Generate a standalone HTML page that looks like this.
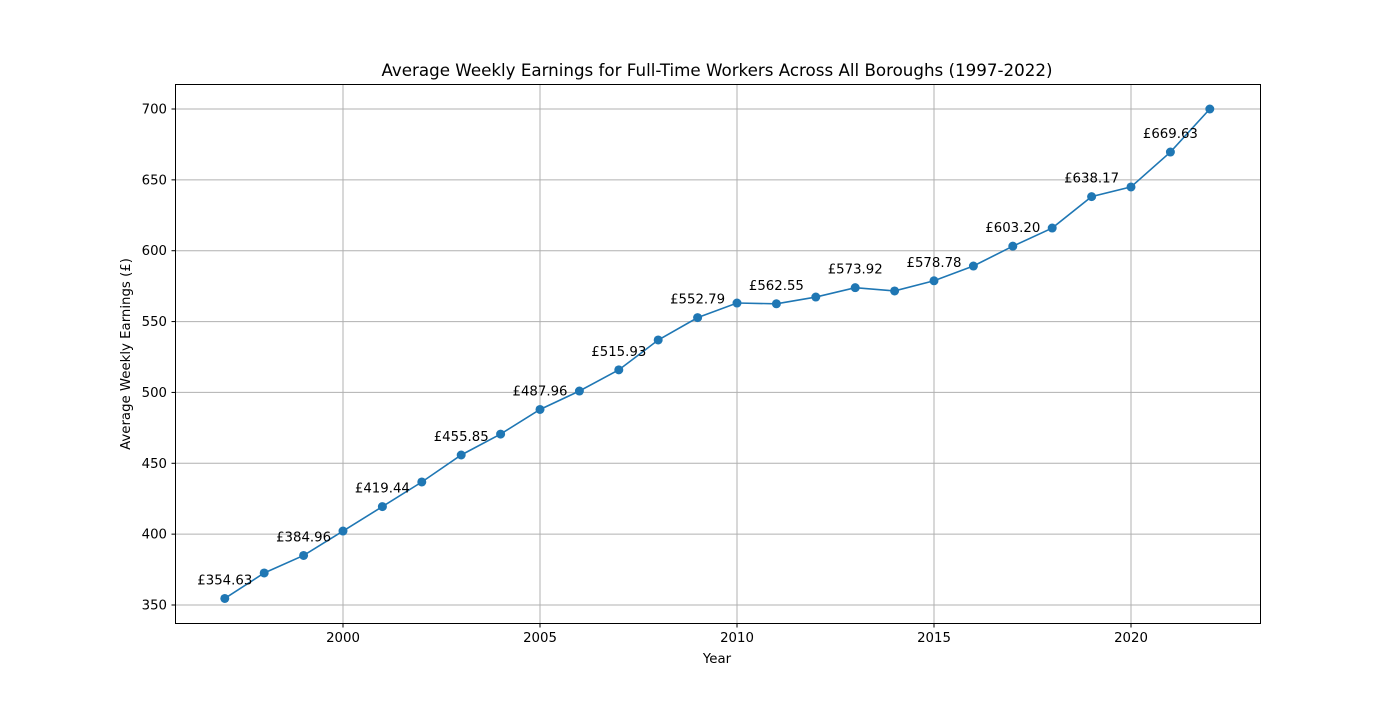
<!DOCTYPE html>
<html><head><meta charset="utf-8"><style>
body{margin:0;background:#fff}
svg{font-family:"DejaVu Sans","Liberation Sans",sans-serif}
</style></head><body>
<svg id="chart" width="1400" height="700" xmlns="http://www.w3.org/2000/svg">
<rect width="1400" height="700" fill="#fff"/>
<text x="717" y="76" font-size="16.7" text-anchor="middle">Average Weekly Earnings for Full-Time Workers Across All Boroughs (1997-2022)</text>
<g id="grid"></g>
<g id="axes"></g>
<g id="series"></g>
<rect x="175.5" y="84.5" width="1085" height="539" fill="none" stroke="#000" stroke-width="1"/>
<text x="717" y="663" font-size="13.3" text-anchor="middle">Year</text>
<text transform="translate(130,354) rotate(-90)" font-size="13.3" text-anchor="middle">Average Weekly Earnings (£)</text>
</svg>
<script>
const years=[1997,1998,1999,2000,2001,2002,2003,2004,2005,2006,2007,2008,2009,2010,2011,2012,2013,2014,2015,2016,2017,2018,2019,2020,2021,2022];
const earnings=[354.63,372.6,384.96,402.2,419.44,436.8,455.85,470.6,487.96,501.0,515.93,537.0,552.79,563.1,562.55,567.3,573.92,571.6,578.78,589.2,603.20,616.0,638.17,645.0,669.63,700.0];
const xTicks=[2000,2005,2010,2015,2020];
const yTicks=[350,400,450,500,550,600,650,700];
const NS="http://www.w3.org/2000/svg";
const X=v=>343+(v-2000)*39.4;
const Y=v=>109+(700-v)*(496/350);
function mk(t,a,p){const e=document.createElementNS(NS,t);for(const k in a)e.setAttribute(k,a[k]);p.appendChild(e);return e;}
const grid=document.getElementById('grid'),axes=document.getElementById('axes'),ser=document.getElementById('series');
xTicks.forEach(t=>{const x=X(t);
 const g=mk('line',{x1:x,x2:x,y1:84.5,y2:623.5,stroke:'#b0b0b0','stroke-width':1},grid);
 
 
 mk('line',{x1:x,x2:x,y1:623.5,y2:627.5,stroke:'#000'},axes);
 const l=mk('text',{x:x,y:642,'font-size':13.3,'text-anchor':'middle'},axes);l.textContent=t;
 
 
});
yTicks.forEach(t=>{const y=Y(t);
 const g=mk('line',{x1:175.5,x2:1260.5,y1:y,y2:y,stroke:'#b0b0b0','stroke-width':1},grid);
 
 
 mk('line',{x1:171.5,x2:175.5,y1:y,y2:y,stroke:'#000'},axes);
 const l=mk('text',{x:167,y:y+4.5,'font-size':13.3,'text-anchor':'end'},axes);l.textContent=t;
 
 
});
const pts=years.map((y,i)=>X(y)+','+Y(earnings[i])).join(' ');
const line=mk('polyline',{points:pts,fill:'none',stroke:'#1f77b4','stroke-width':1.6},ser);


years.forEach((yr,i)=>{
 const c=mk('circle',{cx:X(yr),cy:Y(earnings[i]),r:4.5,fill:'#1f77b4'},ser);
 
 
 if(i%2===0){
  const t=mk('text',{x:X(yr),y:Y(earnings[i])-14,'font-size':13.3,'text-anchor':'middle'},ser);
  t.textContent='£'+earnings[i].toFixed(2);
  
  
 }
});
</script>
</body></html>
